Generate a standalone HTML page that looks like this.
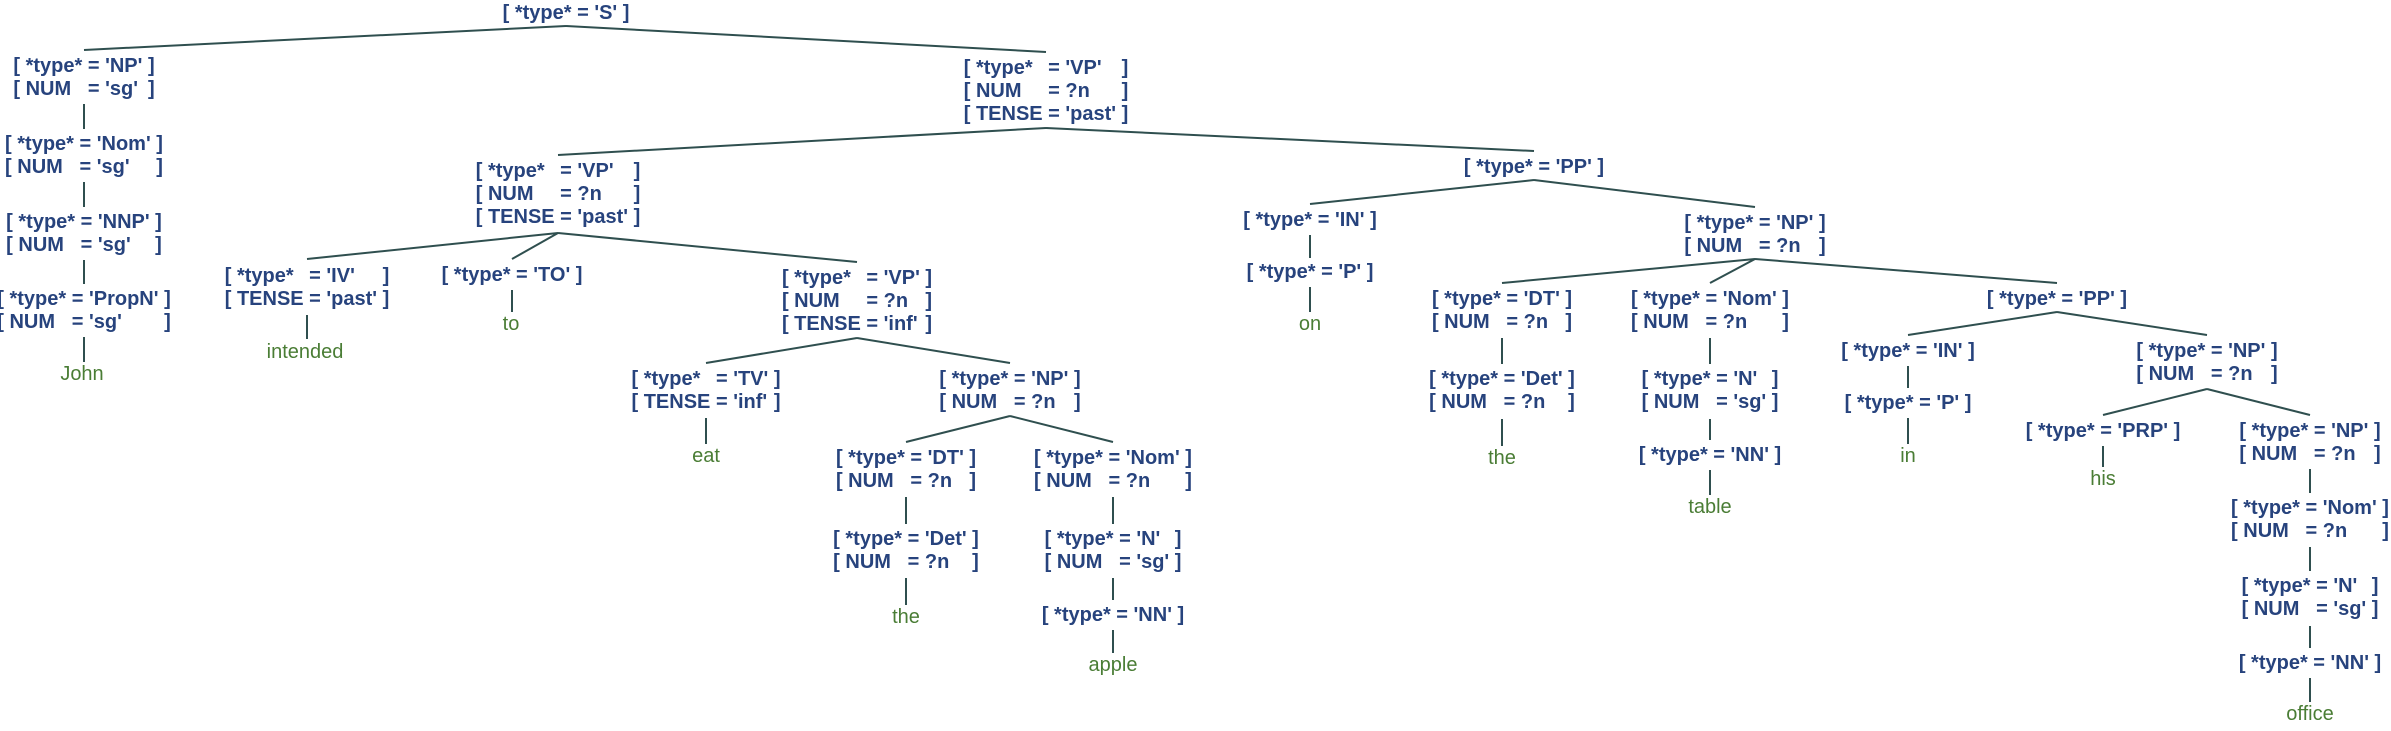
<!DOCTYPE html>
<html><head><meta charset="utf-8"><style>
html,body{margin:0;padding:0;background:#fff;}
body{width:2391px;height:731px;position:relative;overflow:hidden;}
svg{position:absolute;left:0;top:0;}
.n{position:absolute;transform:translateX(-50%);display:grid;grid-template-columns:auto auto auto auto auto;font-family:"Liberation Sans",Arial,sans-serif;font-weight:bold;font-size:20px;line-height:23px;color:#27437d;white-space:pre;}
.n span{white-space:pre;}
.l{position:absolute;transform:translateX(-50%);font-family:"Liberation Sans",Arial,sans-serif;font-size:20px;line-height:23px;color:#4a7d35;white-space:pre;}
</style></head><body>
<svg width="2391" height="731" viewBox="0 0 2391 731">
<g stroke="#2f4f4f" stroke-width="2" fill="none">
<!-- S -->
<line x1="566" y1="26" x2="84" y2="50"/><line x1="566" y1="26" x2="1046" y2="52"/>
<!-- left chain -->
<line x1="84" y1="104" x2="84" y2="129"/><line x1="84" y1="182" x2="84" y2="207"/>
<line x1="84" y1="260" x2="84" y2="284"/><line x1="84" y1="337" x2="84" y2="362"/>
<!-- VP -->
<line x1="1046" y1="128" x2="558" y2="155"/><line x1="1046" y1="128" x2="1534" y2="151"/>
<!-- VP2 -->
<line x1="558" y1="233" x2="307" y2="259"/><line x1="558" y1="233" x2="512" y2="259"/><line x1="558" y1="233" x2="857" y2="262"/>
<line x1="307" y1="315" x2="307" y2="339"/><line x1="512" y1="290" x2="512" y2="312"/>
<!-- VP3 -->
<line x1="857" y1="338" x2="706" y2="363"/><line x1="857" y1="338" x2="1010" y2="363"/>
<line x1="706" y1="418" x2="706" y2="444"/>
<!-- NP3 -->
<line x1="1010" y1="416" x2="906" y2="442"/><line x1="1010" y1="416" x2="1113" y2="442"/>
<line x1="906" y1="497" x2="906" y2="524"/><line x1="906" y1="578" x2="906" y2="605"/>
<line x1="1113" y1="497" x2="1113" y2="524"/><line x1="1113" y1="578" x2="1113" y2="600"/><line x1="1113" y1="630" x2="1113" y2="653"/>
<!-- PP -->
<line x1="1534" y1="180" x2="1310" y2="204"/><line x1="1534" y1="180" x2="1755" y2="207"/>
<line x1="1310" y1="235" x2="1310" y2="258"/><line x1="1310" y1="287" x2="1310" y2="312"/>
<!-- NP2 -->
<line x1="1755" y1="259" x2="1502" y2="283"/><line x1="1755" y1="259" x2="1710" y2="283"/><line x1="1755" y1="259" x2="2057" y2="283"/>
<line x1="1502" y1="338" x2="1502" y2="364"/><line x1="1502" y1="419" x2="1502" y2="446"/>
<line x1="1710" y1="338" x2="1710" y2="364"/><line x1="1710" y1="419" x2="1710" y2="440"/><line x1="1710" y1="470" x2="1710" y2="495"/>
<!-- PP2 -->
<line x1="2057" y1="312" x2="1908" y2="335"/><line x1="2057" y1="312" x2="2207" y2="335"/>
<line x1="1908" y1="366" x2="1908" y2="388"/><line x1="1908" y1="418" x2="1908" y2="444"/>
<!-- NP4 -->
<line x1="2207" y1="389" x2="2103" y2="415"/><line x1="2207" y1="389" x2="2310" y2="415"/>
<line x1="2103" y1="446" x2="2103" y2="467"/>
<line x1="2310" y1="469" x2="2310" y2="493"/><line x1="2310" y1="547" x2="2310" y2="571"/>
<line x1="2310" y1="626" x2="2310" y2="648"/><line x1="2310" y1="678" x2="2310" y2="702"/>
</g></svg>

<div class="n" style="left:566px;top:2px"><span>[ </span><span>*type*</span><span> = </span><span>'S'</span><span> ]</span></div>

<div class="n" style="left:84px;top:55px"><span>[ </span><span>*type*</span><span> = </span><span>'NP'</span><span> ]</span><span>[ </span><span>NUM</span><span> = </span><span>'sg'</span><span> ]</span></div>
<div class="n" style="left:84px;top:133px"><span>[ </span><span>*type*</span><span> = </span><span>'Nom'</span><span> ]</span><span>[ </span><span>NUM</span><span> = </span><span>'sg'</span><span> ]</span></div>
<div class="n" style="left:84px;top:211px"><span>[ </span><span>*type*</span><span> = </span><span>'NNP'</span><span> ]</span><span>[ </span><span>NUM</span><span> = </span><span>'sg'</span><span> ]</span></div>
<div class="n" style="left:84px;top:288px"><span>[ </span><span>*type*</span><span> = </span><span>'PropN'</span><span> ]</span><span>[ </span><span>NUM</span><span> = </span><span>'sg'</span><span> ]</span></div>
<div class="l" style="left:82px;top:363px">John</div>

<div class="n" style="left:1046px;top:57px"><span>[ </span><span>*type*</span><span> = </span><span>'VP'</span><span> ]</span><span>[ </span><span>NUM</span><span> = </span><span>?n</span><span> ]</span><span>[ </span><span>TENSE</span><span> = </span><span>'past'</span><span> ]</span></div>
<div class="n" style="left:558px;top:160px"><span>[ </span><span>*type*</span><span> = </span><span>'VP'</span><span> ]</span><span>[ </span><span>NUM</span><span> = </span><span>?n</span><span> ]</span><span>[ </span><span>TENSE</span><span> = </span><span>'past'</span><span> ]</span></div>

<div class="n" style="left:307px;top:265px"><span>[ </span><span>*type*</span><span> = </span><span>'IV'</span><span> ]</span><span>[ </span><span>TENSE</span><span> = </span><span>'past'</span><span> ]</span></div>
<div class="l" style="left:305px;top:341px">intended</div>
<div class="n" style="left:512px;top:264px"><span>[ </span><span>*type*</span><span> = </span><span>'TO'</span><span> ]</span></div>
<div class="l" style="left:511px;top:313px">to</div>

<div class="n" style="left:857px;top:267px"><span>[ </span><span>*type*</span><span> = </span><span>'VP'</span><span> ]</span><span>[ </span><span>NUM</span><span> = </span><span>?n</span><span> ]</span><span>[ </span><span>TENSE</span><span> = </span><span>'inf'</span><span> ]</span></div>
<div class="n" style="left:706px;top:368px"><span>[ </span><span>*type*</span><span> = </span><span>'TV'</span><span> ]</span><span>[ </span><span>TENSE</span><span> = </span><span>'inf'</span><span> ]</span></div>
<div class="l" style="left:706px;top:445px">eat</div>
<div class="n" style="left:1010px;top:368px"><span>[ </span><span>*type*</span><span> = </span><span>'NP'</span><span> ]</span><span>[ </span><span>NUM</span><span> = </span><span>?n</span><span> ]</span></div>
<div class="n" style="left:906px;top:447px"><span>[ </span><span>*type*</span><span> = </span><span>'DT'</span><span> ]</span><span>[ </span><span>NUM</span><span> = </span><span>?n</span><span> ]</span></div>
<div class="n" style="left:906px;top:528px"><span>[ </span><span>*type*</span><span> = </span><span>'Det'</span><span> ]</span><span>[ </span><span>NUM</span><span> = </span><span>?n</span><span> ]</span></div>
<div class="l" style="left:906px;top:606px">the</div>
<div class="n" style="left:1113px;top:447px"><span>[ </span><span>*type*</span><span> = </span><span>'Nom'</span><span> ]</span><span>[ </span><span>NUM</span><span> = </span><span>?n</span><span> ]</span></div>
<div class="n" style="left:1113px;top:528px"><span>[ </span><span>*type*</span><span> = </span><span>'N'</span><span> ]</span><span>[ </span><span>NUM</span><span> = </span><span>'sg'</span><span> ]</span></div>
<div class="n" style="left:1113px;top:604px"><span>[ </span><span>*type*</span><span> = </span><span>'NN'</span><span> ]</span></div>
<div class="l" style="left:1113px;top:654px">apple</div>

<div class="n" style="left:1534px;top:156px"><span>[ </span><span>*type*</span><span> = </span><span>'PP'</span><span> ]</span></div>
<div class="n" style="left:1310px;top:209px"><span>[ </span><span>*type*</span><span> = </span><span>'IN'</span><span> ]</span></div>
<div class="n" style="left:1310px;top:261px"><span>[ </span><span>*type*</span><span> = </span><span>'P'</span><span> ]</span></div>
<div class="l" style="left:1310px;top:313px">on</div>
<div class="n" style="left:1755px;top:212px"><span>[ </span><span>*type*</span><span> = </span><span>'NP'</span><span> ]</span><span>[ </span><span>NUM</span><span> = </span><span>?n</span><span> ]</span></div>
<div class="n" style="left:1502px;top:288px"><span>[ </span><span>*type*</span><span> = </span><span>'DT'</span><span> ]</span><span>[ </span><span>NUM</span><span> = </span><span>?n</span><span> ]</span></div>
<div class="n" style="left:1502px;top:368px"><span>[ </span><span>*type*</span><span> = </span><span>'Det'</span><span> ]</span><span>[ </span><span>NUM</span><span> = </span><span>?n</span><span> ]</span></div>
<div class="l" style="left:1502px;top:447px">the</div>
<div class="n" style="left:1710px;top:288px"><span>[ </span><span>*type*</span><span> = </span><span>'Nom'</span><span> ]</span><span>[ </span><span>NUM</span><span> = </span><span>?n</span><span> ]</span></div>
<div class="n" style="left:1710px;top:368px"><span>[ </span><span>*type*</span><span> = </span><span>'N'</span><span> ]</span><span>[ </span><span>NUM</span><span> = </span><span>'sg'</span><span> ]</span></div>
<div class="n" style="left:1710px;top:444px"><span>[ </span><span>*type*</span><span> = </span><span>'NN'</span><span> ]</span></div>
<div class="l" style="left:1710px;top:496px">table</div>

<div class="n" style="left:2057px;top:288px"><span>[ </span><span>*type*</span><span> = </span><span>'PP'</span><span> ]</span></div>
<div class="n" style="left:1908px;top:340px"><span>[ </span><span>*type*</span><span> = </span><span>'IN'</span><span> ]</span></div>
<div class="n" style="left:1908px;top:392px"><span>[ </span><span>*type*</span><span> = </span><span>'P'</span><span> ]</span></div>
<div class="l" style="left:1908px;top:445px">in</div>
<div class="n" style="left:2207px;top:340px"><span>[ </span><span>*type*</span><span> = </span><span>'NP'</span><span> ]</span><span>[ </span><span>NUM</span><span> = </span><span>?n</span><span> ]</span></div>
<div class="n" style="left:2103px;top:420px"><span>[ </span><span>*type*</span><span> = </span><span>'PRP'</span><span> ]</span></div>
<div class="l" style="left:2103px;top:468px">his</div>
<div class="n" style="left:2310px;top:420px"><span>[ </span><span>*type*</span><span> = </span><span>'NP'</span><span> ]</span><span>[ </span><span>NUM</span><span> = </span><span>?n</span><span> ]</span></div>
<div class="n" style="left:2310px;top:497px"><span>[ </span><span>*type*</span><span> = </span><span>'Nom'</span><span> ]</span><span>[ </span><span>NUM</span><span> = </span><span>?n</span><span> ]</span></div>
<div class="n" style="left:2310px;top:575px"><span>[ </span><span>*type*</span><span> = </span><span>'N'</span><span> ]</span><span>[ </span><span>NUM</span><span> = </span><span>'sg'</span><span> ]</span></div>
<div class="n" style="left:2310px;top:652px"><span>[ </span><span>*type*</span><span> = </span><span>'NN'</span><span> ]</span></div>
<div class="l" style="left:2310px;top:703px">office</div>
</body></html>
